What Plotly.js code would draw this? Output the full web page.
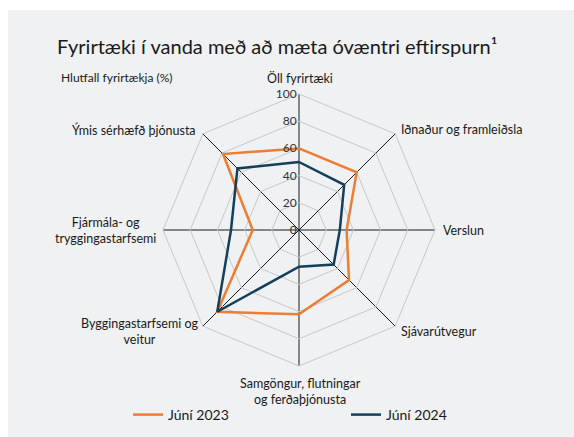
<!DOCTYPE html>
<html>
<head>
<meta charset="utf-8">
<script src="https://cdn.plot.ly/plotly-3.0.1.min.js"></script>
<style>html,body{margin:0;padding:0;background:#fff;}#chart{width:574px;height:437px;}</style>
</head>
<body>
<div id="chart"></div>
<script>
const categories = [
  "Öll fyrirtæki",
  "Iðnaður og framleiðsla",
  "Verslun",
  "Sjávarútvegur",
  "Samgöngur, flutningar og ferðaþjónusta",
  "Byggingastarfsemi og veitur",
  "Fjármála- og tryggingastarfsemi",
  "Ýmis sérhæfð þjónusta"
];
const june2023 = [60, 60, 35, 52, 62, 85, 34, 79];
const june2024 = [50, 47, 30, 36, 27, 85, 50, 64];
const seriesNames = ["Júní 2023", "Júní 2024"];
const radialTicks = [0, 20, 40, 60, 80, 100];

const FONT = "Lato, 'Open Sans', sans-serif";
const W = 574, H = 437;
const px = x => x / W;
const py = y => 1 - y / H;

function closed(a) { return a.concat([a[0]]); }

const traces = [
  {
    type: "scatterpolar", mode: "lines", name: seriesNames[0],
    r: closed(june2023), theta: closed(categories),
    line: { color: "#ed7d31", width: 2.5 }, legend: "legend"
  },
  {
    type: "scatterpolar", mode: "lines", name: seriesNames[1],
    r: closed(june2024), theta: closed(categories),
    line: { color: "#143f5a", width: 2.5 }, legend: "legend2"
  }
];

const labelPos = [
  { x: 300, y: 78, xa: "center" },
  { x: 399, y: 130, xa: "left" },
  { x: 441, y: 231, xa: "left" },
  { x: 399, y: 331, xa: "left" },
  { x: 300, y: 391, xa: "center", text: "Samgöngur, flutningar<br>og ferðaþjónusta" },
  { x: 139, y: 331, xa: "center", text: "Byggingastarfsemi og<br>veitur" },
  { x: 105, y: 231, xa: "center", text: "Fjármála- og<br>tryggingastarfsemi" },
  { x: 198, y: 130, xa: "right" }
];

const annotations = categories.map((c, i) => ({
  xref: "paper", yref: "paper",
  x: px(labelPos[i].x), y: py(labelPos[i].y),
  xanchor: labelPos[i].xa, yanchor: "middle",
  text: labelPos[i].text || c, showarrow: false, align: "center",
  font: { family: FONT, size: 12.5, color: "#1a1a1a" }
}));
annotations.push({
  xref: "paper", yref: "paper", x: px(59), y: py(78),
  xanchor: "left", yanchor: "middle", showarrow: false,
  text: "Hlutfall fyrirtækja (%)",
  font: { family: FONT, size: 12, color: "#1a1a1a" }
});

const legendFont = { family: FONT, size: 14, color: "#1a1a1a" };

const layout = {
  width: W, height: H,
  margin: { l: 0, r: 0, t: 0, b: 0 },
  paper_bgcolor: "#ffffff",
  font: { family: FONT, color: "#1a1a1a" },
  title: {
    text: "Fyrirtæki í vanda með að mæta óvæntri eftirspurn¹",
    x: px(57), xanchor: "left", y: py(47), yanchor: "middle",
    xref: "paper", yref: "paper",
    font: { family: FONT, size: 20, color: "#1a1a1a" }
  },
  shapes: [{
    type: "rect", xref: "paper", yref: "paper", layer: "below",
    x0: px(8), x1: 1, y0: 0, y1: py(10),
    fillcolor: "#eff1f3", line: { width: 0 }
  }],
  polar: {
    domain: { x: [px(163), px(435)], y: [py(366), py(94)] },
    bgcolor: "rgba(0,0,0,0)",
    gridshape: "linear",
    radialaxis: {
      range: [0, 100], tickvals: radialTicks, ticktext: radialTicks.map(String),
      angle: 90, tickangle: 90, side: "counterclockwise",
      showline: false, ticks: "", gridcolor: "#c8c8c8", gridwidth: 1,
      tickfont: { family: FONT, size: 12, color: "#333" }
    },
    angularaxis: {
      type: "category", categoryarray: categories,
      rotation: 90, direction: "clockwise",
      showticklabels: false, ticks: "",
      gridcolor: "#1a1a1a", gridwidth: 1,
      showline: true, linecolor: "#c8c8c8", linewidth: 1
    }
  },
  showlegend: true,
  legend: {
    orientation: "h", x: px(128), xanchor: "left", y: py(415), yanchor: "middle",
    bgcolor: "rgba(0,0,0,0)", font: legendFont
  },
  legend2: {
    orientation: "h", x: px(346), xanchor: "left", y: py(415), yanchor: "middle",
    bgcolor: "rgba(0,0,0,0)", font: legendFont
  },
  annotations: annotations
};

Plotly.newPlot("chart", traces, layout, { displayModeBar: false, staticPlot: true });
</script>
</body>
</html>
